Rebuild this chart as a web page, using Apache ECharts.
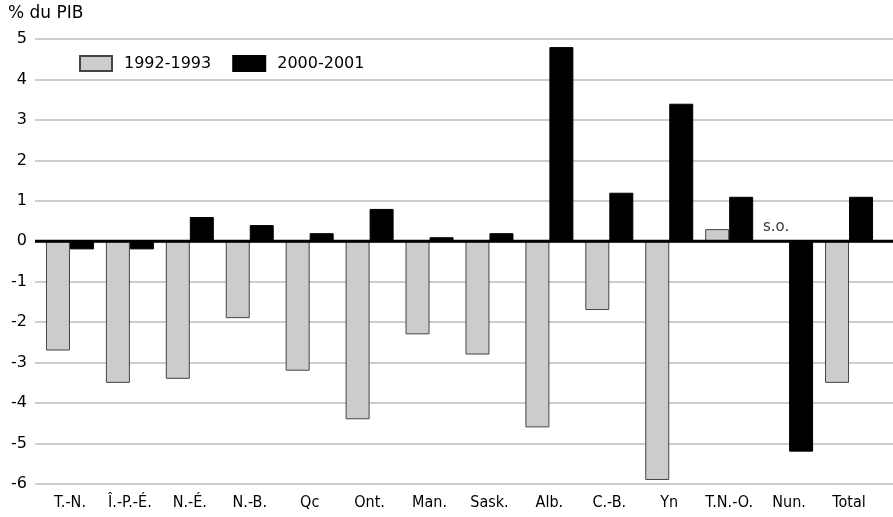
<!DOCTYPE html>
<html><head><meta charset="utf-8">
<script src="https://cdn.jsdelivr.net/npm/echarts@6/dist/echarts.min.js"></script>
<style>html,body{margin:0;padding:0;background:#fff}#c{width:893px;height:517px}</style>
</head><body><div id="c"></div>
<script>
const categories = ['T.-N.','Î.-P.-É.','N.-É.','N.-B.','Qc','Ont.','Man.','Sask.','Alb.','C.-B.','Yn','T.N.-O.','Nun.','Total'];
const series1992 = [-2.7,-3.5,-3.4,-1.9,-3.2,-4.4,-2.3,-2.8,-4.6,-1.7,-5.9,0.3,null,-3.5];
const series2000 = [-0.2,-0.2,0.6,0.4,0.2,0.8,0.1,0.2,4.8,1.2,3.4,1.1,-5.2,1.1];
const notAvailable = [null,null,null,null,null,null,null,null,null,null,null,null,0.35,null];
const yTicks = [-6,-5,-4,-3,-2,-1,0,1,2,3,4,5];

const font = '"DejaVu Sans", Verdana, sans-serif';
const narrow = '"Liberation Sans Narrow", "DejaVu Sans Condensed", "Roboto Condensed", sans-serif';
const chart = echarts.init(document.getElementById('c'));
chart.setOption({
  animation: false,
  textStyle: {fontFamily: font},
  title: {text: '% du PIB', left: 8, top: 5, padding: 0, textStyle: {fontSize: 17, fontWeight: 'normal', color: '#000', fontFamily: font}},
  legend: {
    left: 79, top: 55, padding: 0, itemWidth: 32, itemHeight: 15, itemGap: 21, icon: 'rect',
    textStyle: {fontSize: 16, color: '#000', fontFamily: font, padding: [0, 0, 0, 7]},
    data: ['1992-1993','2000-2001']
  },
  grid: [
    {left: 35, right: 0, top: 39, bottom: 33},
    {left: 40, right: 14, top: 39, bottom: 33}
  ],
  xAxis: [
    {gridIndex: 0, type: 'value', show: false, min: 0, max: 1},
    {gridIndex: 1, type: 'category', data: categories,
     axisLine: {show: false}, axisTick: {show: false},
     axisLabel: {fontSize: 16, color: '#000', margin: 11, interval: 0, fontFamily: narrow}}
  ],
  yAxis: [
    {gridIndex: 0, type: 'value', min: -6, max: 5, interval: 1,
     axisLine: {show: false}, axisTick: {show: false},
     axisLabel: {fontSize: 16, color: '#000', margin: 8, formatter: v => yTicks.includes(v) ? String(v) : ''},
     splitLine: {lineStyle: {color: '#bdbdbd', width: 1.5}}},
    {gridIndex: 1, type: 'value', min: -6, max: 5, interval: 1, show: false, splitLine: {show: false}}
  ],
  series: [
    {type: 'line', xAxisIndex: 0, yAxisIndex: 0, data: [[0,0],[1,0]], symbol: 'none',
     lineStyle: {color: '#000', width: 3}, z: 5, silent: true, legendHoverLink: false},
    {name: '1992-1993', type: 'bar', xAxisIndex: 1, yAxisIndex: 1, data: series1992,
     barWidth: 24, barGap: '0%',
     itemStyle: {color: '#cccccc', borderColor: '#444', borderWidth: 1}},
    {name: '2000-2001', type: 'bar', xAxisIndex: 1, yAxisIndex: 1, data: series2000,
     barWidth: 24, barGap: '0%',
     itemStyle: {color: '#000000', borderColor: '#000', borderWidth: 1}},
    {type: 'scatter', xAxisIndex: 1, yAxisIndex: 1, data: notAvailable, symbolSize: 0,
     label: {show: true, formatter: 's.o.', position: 'inside', offset: [-13, 0], fontSize: 15, color: '#000', fontFamily: font}}
  ]
});
</script></body></html>
